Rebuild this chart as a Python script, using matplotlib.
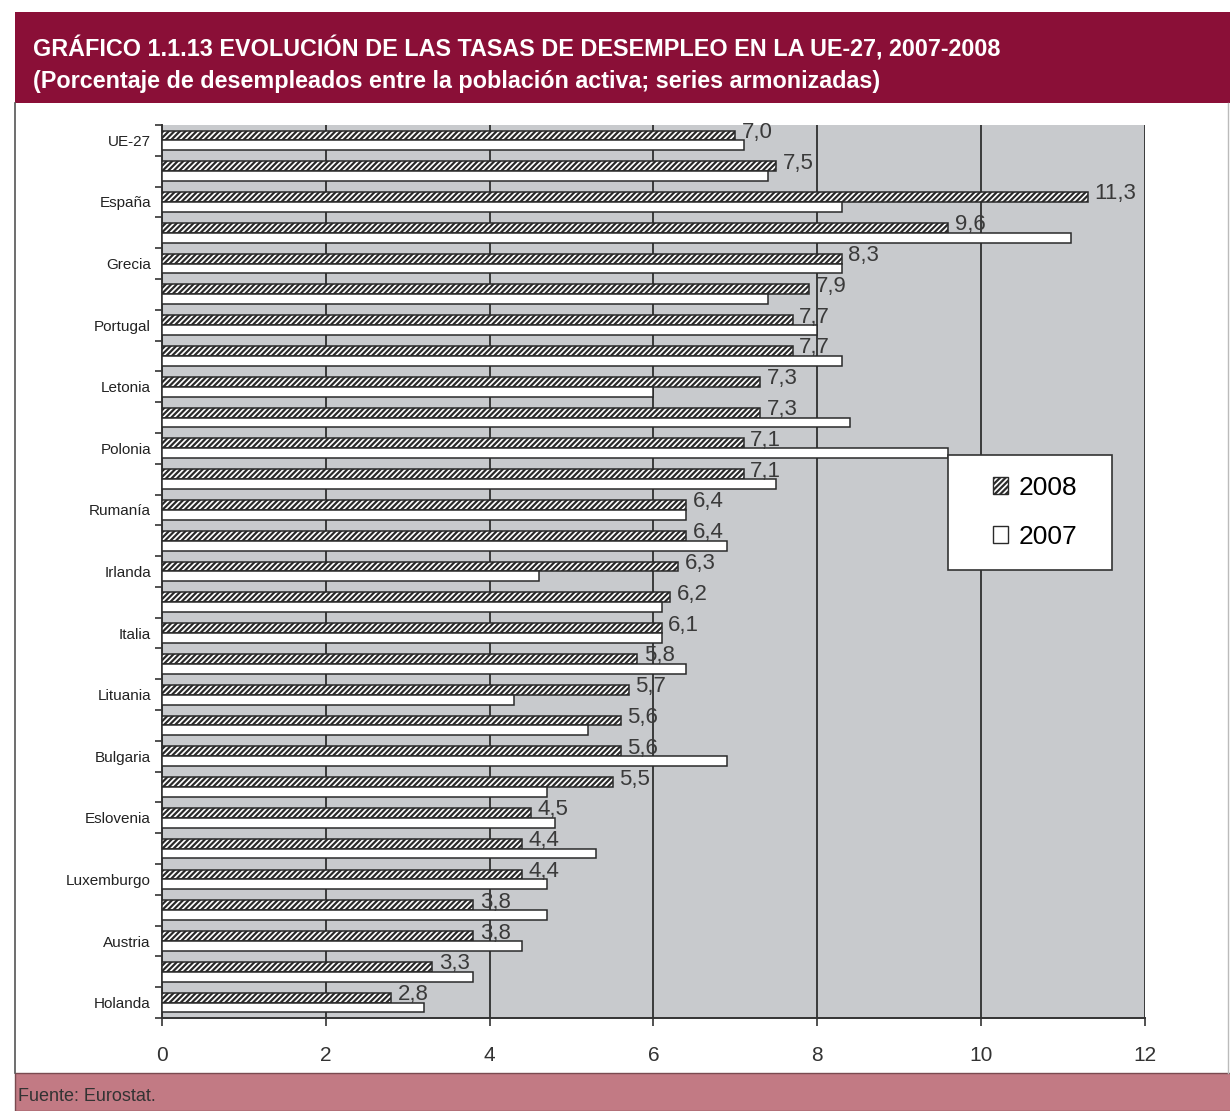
import matplotlib

matplotlib.use("Agg")
import matplotlib.pyplot as plt
from matplotlib.patches import Patch, Rectangle
from matplotlib.lines import Line2D
import numpy as np

# 29 rows, top to bottom; only every other row carries a visible label
categories = [
    "UE-27", "", "España", "", "Grecia", "", "Portugal", "", "Letonia", "",
    "Polonia", "", "Rumanía", "", "Irlanda", "", "Italia", "", "Lituania", "",
    "Bulgaria", "", "Eslovenia", "", "Luxemburgo", "", "Austria", "", "Holanda",
]
rate_2008 = [7.0, 7.5, 11.3, 9.6, 8.3, 7.9, 7.7, 7.7, 7.3, 7.3, 7.1, 7.1, 6.4, 6.4,
             6.3, 6.2, 6.1, 5.8, 5.7, 5.6, 5.6, 5.5, 4.5, 4.4, 4.4, 3.8, 3.8, 3.3, 2.8]
rate_2007 = [7.1, 7.4, 8.3, 11.1, 8.3, 7.4, 8.0, 8.3, 6.0, 8.4, 9.6, 7.5, 6.4, 6.9,
             4.6, 6.1, 6.1, 6.4, 4.3, 5.2, 6.9, 4.7, 4.8, 5.3, 4.7, 4.7, 4.4, 3.8, 3.2]
x_ticks = [0, 2, 4, 6, 8, 10, 12]
title = "GRÁFICO 1.1.13 EVOLUCIÓN DE LAS TASAS DE DESEMPLEO EN LA UE-27, 2007-2008"
subtitle = "(Porcentaje de desempleados entre la población activa; series armonizadas)"
source = "Fuente: Eurostat."

plt.rcParams["font.family"] = ["Liberation Sans", "DejaVu Sans"]
plt.rcParams["hatch.linewidth"] = 1.6
plt.rcParams["hatch.color"] = "#2a2a2a"

fig = plt.figure(figsize=(12.3, 11.11), dpi=100)

# header / footer bands and outer frame
fig.patches.append(Rectangle((0.0122, 0.9073), 0.99, 0.0819, transform=fig.transFigure,
                             facecolor="#8a0f37", edgecolor="none", zorder=0))
fig.patches.append(Rectangle((0.0122, 0.0), 0.99, 0.0342, transform=fig.transFigure,
                             facecolor="#c27a84", edgecolor="#7a4a50", lw=1.0, zorder=0))
fig.lines.append(Line2D([0.0122, 0.0122], [0.0342, 0.9073], transform=fig.transFigure,
                        color="#555555", lw=1.2))
fig.lines.append(Line2D([0.998, 0.998], [0.0342, 0.9073], transform=fig.transFigure,
                        color="#bbbbbb", lw=1.0))

fig.text(0.027, 0.956, title, color="white", fontsize=16.8, fontweight="bold",
         va="center", ha="left")
fig.text(0.027, 0.927, subtitle, color="white", fontsize=16.8, fontweight="bold",
         va="center", ha="left")
fig.text(0.015, 0.0135, source, color="#333333", fontsize=13, va="center", ha="left")

ax = fig.add_axes([0.1317, 0.0837, 0.7992, 0.8038])
ax.set_facecolor("#c8cacd")

y = np.arange(len(categories))
h = 0.32
ax.barh(y - h / 2, rate_2008, height=h, color="white", edgecolor="#2a2a2a",
        hatch="//////", lw=1.1, zorder=3, label="2008")
ax.barh(y + h / 2, rate_2007, height=h, color="white", edgecolor="#2a2a2a",
        lw=1.1, zorder=3, label="2007")

for yi, v in zip(y, rate_2008):
    ax.text(v + 0.08, yi - h / 2 - 0.1, f"{v:.1f}".replace(".", ","), fontsize=16,
            color="#3a3a3a", va="center", ha="left", zorder=4)

ax.set_xlim(0, 12)
ax.set_ylim(len(categories) - 0.5, -0.5)
ax.set_xticks(x_ticks)
ax.set_xticklabels([str(t) for t in x_ticks], fontsize=15, color="#333333")
ax.tick_params(axis="x", length=6, width=1.2, color="#333333", pad=14)
ax.set_yticks(y)
ax.set_yticklabels(categories, fontsize=11, color="#222222")
ax.tick_params(axis="y", length=0, pad=8)
ax.set_yticks(np.arange(-0.5, len(categories)), minor=True)
ax.tick_params(axis="y", which="minor", length=5, width=1.2, color="#333333")
ax.grid(axis="x", color="#222222", lw=1.2, zorder=1)

for side in ["top", "right"]:
    ax.spines[side].set_visible(False)
for side in ["left", "bottom"]:
    ax.spines[side].set_color("#333333")
    ax.spines[side].set_linewidth(1.4)

# legend: white box with a frameless legend inside
ax.add_patch(Rectangle((0.7996, 0.5017), 0.1668, 0.1288, transform=ax.transAxes,
                       facecolor="white", edgecolor="#333333", lw=1.2, zorder=5))
handles = [
    Patch(facecolor="white", edgecolor="#2a2a2a", hatch="//////", label="2008"),
    Patch(facecolor="white", edgecolor="#2a2a2a", label="2007"),
]
leg = ax.legend(handles=handles, loc="center left", bbox_to_anchor=(0.845, 0.566),
                fontsize=19, frameon=False, handlelength=0.6, handleheight=0.6,
                handletextpad=0.4, labelspacing=0.95, borderpad=0, borderaxespad=0)
leg.set_zorder(6)

fig.savefig("out.png", dpi=100)
